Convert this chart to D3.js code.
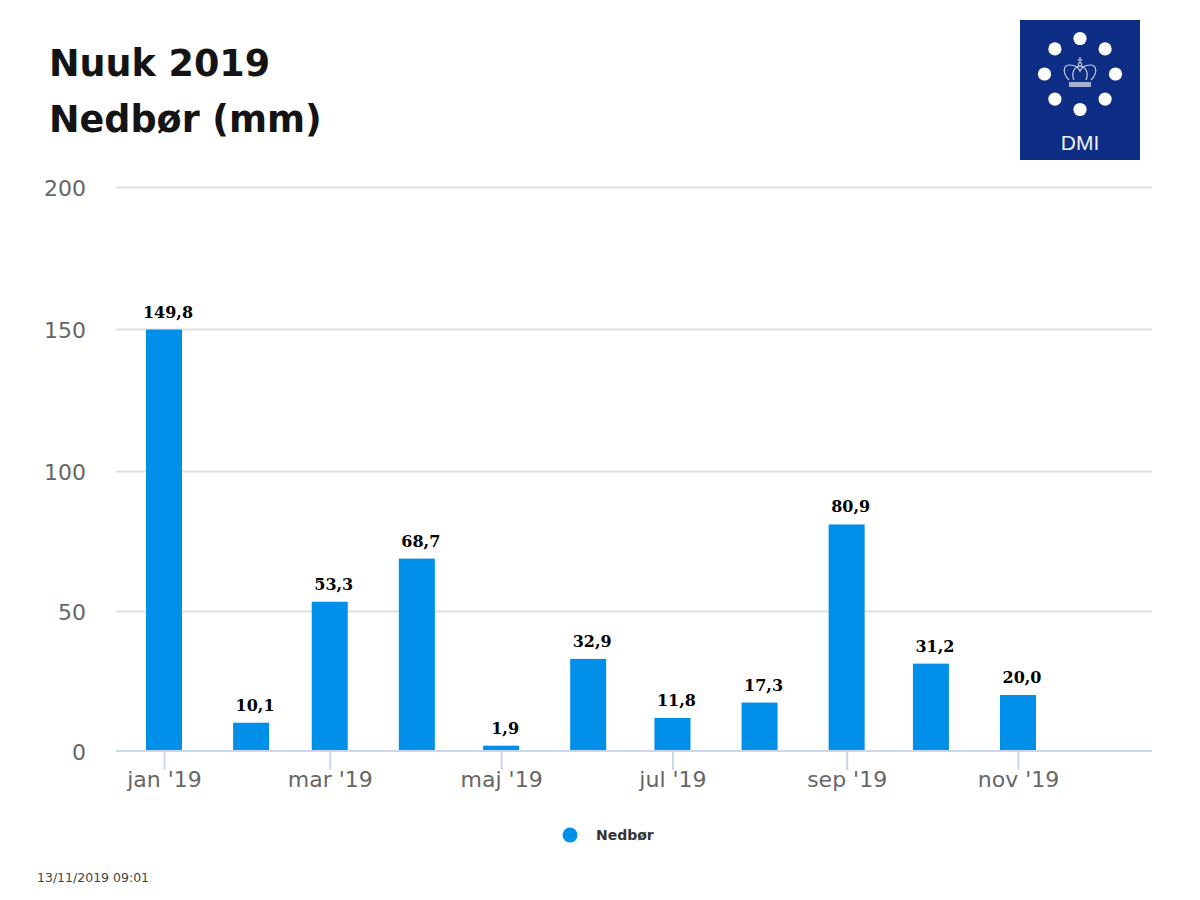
<!DOCTYPE html>
<html>
<head>
<meta charset="utf-8">
<script src="https://cdn.jsdelivr.net/npm/d3@7"></script>
<style>
  html, body { margin: 0; padding: 0; background: #fff; }
  svg { display: block; }
  text { font-family: "DejaVu Sans", sans-serif; }
  .grid line { stroke: #e0e0e0; stroke-width: 2; }
  .grid path, .yaxis path, .yaxis line { display: none; }
  .yaxis text, .xaxis text { fill: #666; font-size: 22px; }
  .xaxis path { stroke: #ccd6eb; stroke-width: 2; }
  .xaxis line { stroke: #ccd6eb; stroke-width: 2; }
</style>
</head>
<body>
<svg id="chart" width="1200" height="900"></svg>
<script>
const months = ["2019-01", "2019-02", "2019-03", "2019-04", "2019-05", "2019-06", "2019-07", "2019-08", "2019-09", "2019-10", "2019-11"];
const rain = [149.8, 10.1, 53.3, 68.7, 1.9, 32.9, 11.8, 17.3, 80.9, 31.2, 20.0];
const tickMonths = ["2019-01", "2019-03", "2019-05", "2019-07", "2019-09", "2019-11"];
const tickLabels = ["jan '19", "mar '19", "maj '19", "jul '19", "sep '19", "nov '19"];
const yTicks = [0, 50, 100, 150, 200];
const titleLines = ["Nuuk 2019", "Nedbør (mm)"];
const seriesName = "Nedbør";
const stamp = "13/11/2019 09:01";
const logoDots = d3.range(8);

const svg = d3.select("#chart");
const blue = "#008fe9";
const parseMonth = d3.utcParse("%Y-%m");
const barWidth = 36;

// time axis: month gaps follow the number of days
var x = d3.scaleUtc().domain([parseMonth(months[0]), parseMonth(months[10])]).range([164, 1018]);
var y = d3.scaleLinear().domain([0, 100, 200]).range([751, 471, 187]);

// grid
svg.append("g")
  .attr("class", "grid")
  .attr("transform", "translate(116,0)")
  .call(d3.axisLeft(y).tickValues(yTicks.slice(1)).tickSize(-1036).tickFormat(""));

// y labels
svg.append("g")
  .attr("class", "yaxis")
  .attr("transform", "translate(86,1)")
  .call(d3.axisLeft(y).tickValues(yTicks).tickSize(0).tickPadding(0))
  .selectAll("text").attr("dy", "0.36em");

const rows = months.map((m, i) => ({d: parseMonth(m), v: rain[i]}));

// bars
svg.selectAll("rect.bar")
  .data(rows)
  .enter()
  .append("rect")
  .attr("class", "bar")
  .attr("x", d => x(d.d) - barWidth / 2)
  .attr("y", d => y(d.v))
  .attr("width", barWidth)
  .attr("height", d => y(0) - y(d.v))
  .attr("fill", blue);

// x axis
const xAxis = svg.append("g")
  .attr("class", "xaxis")
  .attr("transform", "translate(0,751)")
  .call(d3.axisBottom(x)
    .tickValues(tickMonths.map(parseMonth))
    .tickFormat((d, i) => tickLabels[i])
    .tickSize(19).tickSizeOuter(0).tickPadding(1));
xAxis.select("path").attr("d", "M116,0H1152");

// value labels
svg.selectAll("text.val")
  .data(rows)
  .enter()
  .append("text")
  .attr("class", "val")
  .attr("x", d => x(d.d) + 4)
  .attr("y", d => y(d.v) - 12)
  .attr("text-anchor", "middle")
  .style("font-family", "'DejaVu Serif', serif")
  .style("font-size", "16px")
  .style("font-weight", "bold")
  .attr("fill", "#000")
  .text(d => d.v.toFixed(1).replace(".", ","));

// title
svg.selectAll("text.title")
  .data(titleLines)
  .enter()
  .append("text")
  .attr("class", "title")
  .attr("x", 49)
  .attr("y", (d, i) => 76 + i * 56)
  .style("font-size", "36.5px")
  .style("font-weight", "bold")
  .attr("fill", "#141414")
  .text(d => d);

// legend
svg.append("circle").attr("cx", 570).attr("cy", 835).attr("r", 7.5).attr("fill", blue);
svg.append("text")
  .attr("x", 596).attr("y", 840)
  .style("font-size", "14px").style("font-weight", "bold")
  .attr("fill", "#333")
  .text(seriesName);

svg.append("text")
  .attr("x", 37).attr("y", 882)
  .style("font-size", "12.5px")
  .attr("fill", "#444")
  .text(stamp);

// logo
const logo = svg.append("g").attr("transform", "translate(1020,20)");
logo.append("rect").attr("width", 120).attr("height", 140).attr("fill", "#0e2d84");
logo.selectAll("circle")
  .data(logoDots)
  .enter()
  .append("circle")
  .attr("cx", d => 60 + 35.5 * Math.sin(d * Math.PI / 4))
  .attr("cy", d => 54 - 35.5 * Math.cos(d * Math.PI / 4))
  .attr("r", 6.6)
  .attr("fill", "#fff");
const crown = logo.append("g").attr("fill", "none").attr("stroke", "#c3cbe3").attr("stroke-width", 1.2);
crown.append("path").attr("d", "M49,60C42,53 43,45 50,45C55,45 59,48 60,51C61,48 65,45 70,45C77,45 78,53 71,60");
crown.append("path").attr("d", "M54,60C51,53 54,47 60,46C66,47 69,53 66,60");
crown.append("path").attr("d", "M60,37V43M57.5,40H62.5");
crown.append("circle").attr("cx", 60).attr("cy", 44.5).attr("r", 1.8);
logo.append("rect").attr("x", 49).attr("y", 62).attr("width", 22).attr("height", 5).attr("fill", "#a5afd2");
logo.append("text")
  .attr("x", 60).attr("y", 130)
  .attr("text-anchor", "middle")
  .style("font-family", "'Liberation Sans', sans-serif")
  .style("font-size", "21px")
  .attr("fill", "#eef1f8")
  .text("DMI");
</script>
</body>
</html>
